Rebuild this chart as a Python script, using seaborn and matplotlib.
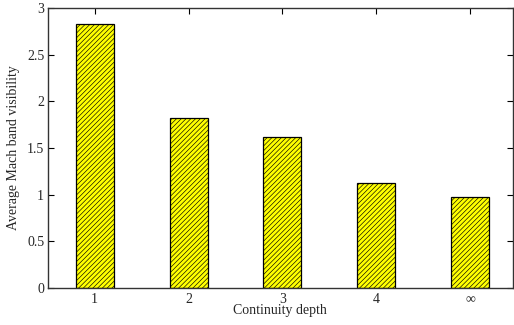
import matplotlib
matplotlib.use("Agg")
import matplotlib.pyplot as plt
import seaborn as sns
import pandas as pd

categories = ["1", "2", "3", "4", "\u221e"]
values = [2.83, 1.82, 1.62, 1.13, 0.97]
yticks = [0, 0.5, 1, 1.5, 2, 2.5, 3]
ytick_labels = ["0", "0.5", "1", "1.5", "2", "2.5", "3"]

sns.set_theme(style="white")
plt.rcParams["font.family"] = ["Liberation Serif", "DejaVu Serif"]
plt.rcParams["hatch.linewidth"] = 0.45
plt.rcParams["hatch.color"] = "black"

df = pd.DataFrame({"depth": categories, "vis": values})

fig = plt.figure(figsize=(5.14, 3.25), dpi=100)
ax = fig.add_axes([47.7 / 514, 37 / 325, (512.5 - 47.7) / 514, 280 / 325])
sns.barplot(data=df, x="depth", y="vis", ax=ax, color="#ffff00", width=0.405,
            edgecolor="black", linewidth=0.9, hatch="///////", saturation=1)

ax.set_xlim(-0.5, 4.45)
ax.set_ylim(0, 3)
ax.set_yticks(yticks)
ax.set_yticklabels(ytick_labels)
ax.set_xlabel("Continuity depth", fontsize=10, labelpad=-1)
ax.set_ylabel("Average Mach band visibility", fontsize=10, labelpad=5)
ax.tick_params(axis="both", which="both", direction="in", length=4, width=0.8,
               labelsize=10, top=True, right=True, left=True, bottom=True, color="black")
ax.tick_params(axis="x", pad=3.5)
ax.tick_params(axis="y", pad=2.5)
for s in ax.spines.values():
    s.set_visible(True)
    s.set_color("#333333")
    s.set_linewidth(1.0)

fig.savefig("out.png", dpi=100)
